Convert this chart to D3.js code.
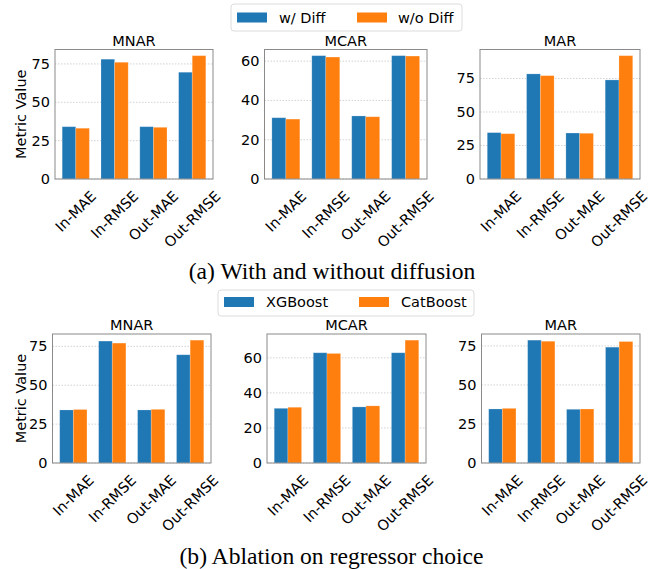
<!DOCTYPE html>
<html><head><meta charset="utf-8">
<script src="https://cdn.jsdelivr.net/npm/d3@7"></script>
<style>body{margin:0;background:#fff}svg{display:block}</style>
</head><body>
<svg id="chart" width="664" height="569"></svg>
<script>
// ---- data ----
const categories = ["In-MAE", "In-RMSE", "Out-MAE", "Out-RMSE"];
const panelTitles = ["MNAR", "MCAR", "MAR"];
const seriesNamesA = ["w/ Diff", "w/o Diff"];
const seriesNamesB = ["XGBoost", "CatBoost"];
const captionA = "(a) With and without diffusion";
const captionB = "(b) Ablation on regressor choice";
const yLabel = "Metric Value";

const a_MNAR_wDiff  = [34.1, 78.1, 34.1, 69.6];
const a_MNAR_woDiff = [33.1, 76.1, 33.7, 80.4];
const a_MCAR_wDiff  = [31.2, 62.8, 32.1, 62.8];
const a_MCAR_woDiff = [30.5, 62.1, 31.7, 62.6];
const a_MAR_wDiff   = [34.6, 78.4, 34.3, 73.9];
const a_MAR_woDiff  = [33.8, 77.1, 34.1, 92.0];

const b_MNAR_xgb = [34.1, 78.4, 34.1, 69.6];
const b_MNAR_cat = [34.4, 77.1, 34.5, 79.0];
const b_MCAR_xgb = [31.2, 62.9, 32.0, 62.9];
const b_MCAR_cat = [31.8, 62.5, 32.6, 70.1];
const b_MAR_xgb  = [34.6, 78.7, 34.4, 74.2];
const b_MAR_cat  = [35.0, 78.0, 34.6, 77.8];

const ticksBy25 = [0, 25, 50, 75];
const ticksBy20 = [0, 20, 40, 60];

// ---- layout / style ----
const colors = ["#1f77b4", "#ff7f0e"];
const FONT = "'DejaVu Sans', sans-serif";
const FS = 14.5;
const INK = "#000";
const svg = d3.select("#chart");

const panels = [
  {rect:[55, 49.5, 213, 179], title:panelTitles[0], s:[a_MNAR_wDiff, a_MNAR_woDiff], ticks:ticksBy25, ylab:true},
  {rect:[264.5, 49.5, 427, 179], title:panelTitles[1], s:[a_MCAR_wDiff, a_MCAR_woDiff], ticks:ticksBy20},
  {rect:[480, 49.5, 640, 179], title:panelTitles[2], s:[a_MAR_wDiff, a_MAR_woDiff], ticks:ticksBy25},
  {rect:[52.5, 334, 211, 463], title:panelTitles[0], s:[b_MNAR_xgb, b_MNAR_cat], ticks:ticksBy25, ylab:true},
  {rect:[267, 334, 426, 463], title:panelTitles[1], s:[b_MCAR_xgb, b_MCAR_cat], ticks:ticksBy20},
  {rect:[481.5, 334, 640, 463], title:panelTitles[2], s:[b_MAR_xgb, b_MAR_cat], ticks:ticksBy25},
];

const barW = 0.35;

panels.forEach(p => {
  const [x0, y0, x1, y1] = p.rect;
  const g = svg.append("g");
  const ymax = d3.max(p.s.flat()) * 1.05;
  const y = d3.scaleLinear().domain([0, ymax]).range([y1, y0]);
  const lo = -barW, hi = categories.length - 1 + barW, m = (hi - lo) * 0.05;
  const x = d3.scaleLinear().domain([lo - m, hi + m]).range([x0, x1]);

  // grid
  g.selectAll(".grid").data(p.ticks).join("line")
    .attr("x1", x0).attr("x2", x1)
    .attr("y1", d => y(d)).attr("y2", d => y(d))
    .attr("stroke", "#c8c8c8").attr("stroke-width", 0.8)
    .attr("stroke-dasharray", "1.5,1.5");

  // bars
  p.s.forEach((vals, si) => {
    g.selectAll(".bar" + si).data(vals).join("rect")
      .attr("x", (d, i) => x(i + (si === 0 ? -barW : 0)))
      .attr("width", (d, i) => x(i + barW) - x(i))
      .attr("y", d => y(d))
      .attr("height", d => y(0) - y(d))
      .attr("fill", colors[si])
      .attr("stroke", "#fff").attr("stroke-opacity", 0.25).attr("stroke-width", 0.8);
  });

  // spines
  g.append("rect").attr("x", x0).attr("y", y0)
    .attr("width", x1 - x0).attr("height", y1 - y0)
    .attr("fill", "none").attr("stroke", "#8a8a8a").attr("stroke-width", 1);

  // y tick labels
  g.selectAll(".yt").data(p.ticks).join("text")
    .attr("x", x0 - 5).attr("y", d => y(d))
    .attr("text-anchor", "end").attr("dominant-baseline", "central")
    .style("font-family", FONT).style("font-size", FS + "px").attr("fill", INK)
    .text(d => d);

  // x tick labels rotated 45, bbox centered on tick
  categories.forEach((c, i) => {
    const t = g.append("text")
      .attr("text-anchor", "middle").attr("dominant-baseline", "central")
      .style("font-family", FONT).style("font-size", FS + "px").attr("fill", INK)
      .text(c);
    const L = t.node().getComputedTextLength();
    const H = FS * 1.1;
    const h = (L + H) * Math.SQRT1_2;
    t.attr("transform", `translate(${x(i)},${y1 + 9 + h / 2}) rotate(-45)`);
  });

  // title
  g.append("text").attr("x", (x0 + x1) / 2).attr("y", y0 - 4)
    .attr("text-anchor", "middle")
    .style("font-family", FONT).style("font-size", FS + "px").attr("fill", INK)
    .text(p.title);

  if (p.ylab) {
    g.append("text")
      .attr("transform", `translate(21,${(y0 + y1) / 2}) rotate(-90)`)
      .attr("text-anchor", "middle").attr("dominant-baseline", "central")
      .style("font-family", FONT).style("font-size", FS + "px").attr("fill", INK)
      .text(yLabel);
  }
});

// legends
function legend(box, names, sw, tx, cy) {
  const g = svg.append("g");
  g.append("rect").attr("x", box[0]).attr("y", box[1])
    .attr("width", box[2] - box[0]).attr("height", box[3] - box[1])
    .attr("rx", 3).attr("fill", "#fff").attr("stroke", "#dcdcdc").attr("stroke-width", 1);
  names.forEach((n, i) => {
    g.append("rect").attr("x", sw[i]).attr("y", cy - 5)
      .attr("width", 30).attr("height", 10).attr("fill", colors[i]);
    g.append("text").attr("x", tx[i]).attr("y", cy)
      .attr("dominant-baseline", "central")
      .style("font-family", FONT).style("font-size", FS + "px").attr("fill", INK)
      .text(n);
  });
}
legend([231, 4, 462, 31], seriesNamesA, [237, 357], [279, 398], 17.5);
legend([218, 290, 474, 316], seriesNamesB, [224, 359], [266, 401], 302);

// captions
svg.append("text").attr("x", 332).attr("y", 279).attr("text-anchor", "middle")
  .style("font-family", "'Liberation Serif', 'Times New Roman', serif").style("font-size", "23.6px")
  .attr("fill", INK).text(captionA);
svg.append("text").attr("x", 331.5).attr("y", 564).attr("text-anchor", "middle")
  .style("font-family", "'Liberation Serif', 'Times New Roman', serif").style("font-size", "23.6px")
  .attr("fill", INK).text(captionB);
</script>
</body></html>
